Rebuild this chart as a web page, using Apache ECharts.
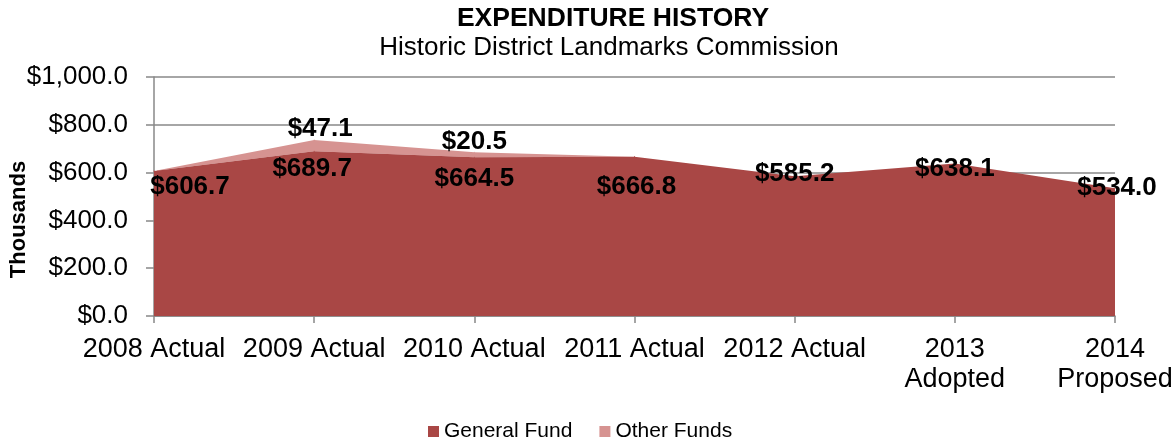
<!DOCTYPE html>
<html><head><meta charset="utf-8">
<script src="https://cdn.jsdelivr.net/npm/echarts@6/dist/echarts.min.js"></script>
<style>html,body{margin:0;padding:0;background:#fff}#c{width:1176px;height:442px}</style>
</head><body><div id="c"></div>
<script>
var categories = ['2008 Actual','2009 Actual','2010 Actual','2011 Actual','2012 Actual','2013\nAdopted','2014\nProposed'];
var generalFund = [606.7, 689.7, 664.5, 666.8, 585.2, 638.1, 534.0];
var otherFunds = [0, 47.1, 20.5, 0, 0, 0, 0];
var yTicks = [0, 200, 400, 600, 800, 1000];

// label offsets (styling only)
var gfOffsets = [[36,16],[-2,18],[0,22],[2,30],[0,-2],[0,5],[2,-1]];
var ofOffsets = [[0,0],[6,-11],[0,-10],[0,0],[0,0],[0,0],[0,0]];

var FONT = 'Liberation Sans, Arial, sans-serif';
var dark = '#A94745', light = '#D69391';

function fmt(v){ return '$' + v.toLocaleString('en-US',{minimumFractionDigits:1,maximumFractionDigits:1}); }

var gfData = generalFund.map(function(v,i){
  return {value:v, label:{offset:gfOffsets[i]}};
});
var ofData = otherFunds.map(function(v,i){
  return {value:v, label:{show: v>0, offset:ofOffsets[i]}};
});

var chart = echarts.init(document.getElementById('c'));
chart.setOption({
  animation:false,
  title:[
    {text:'EXPENDITURE HISTORY', left:608, top:0, textAlign:'center',
     textStyle:{fontFamily:FONT,fontSize:26.5,fontWeight:'bold',color:'#000'}},
    {text:'Historic District Landmarks Commission', left:604, top:30, textAlign:'center',
     textStyle:{fontFamily:FONT,fontSize:26,fontWeight:'normal',color:'#000'}}
  ],
  legend:{
    top:416, left:423, itemWidth:11, itemHeight:11, itemGap:27, icon:'rect',
    textStyle:{fontFamily:FONT,fontSize:21,color:'#000'},
    data:['General Fund','Other Funds']
  },
  grid:{left:154,right:61,top:77,bottom:126,containLabel:false,outerBoundsMode:'none'},
  xAxis:{
    type:'category', data:categories, boundaryGap:false,
    axisLine:{lineStyle:{color:'#888',width:1.5}},
    axisTick:{show:true,length:7,lineStyle:{color:'#888',width:1.5}},
    axisLabel:{fontFamily:FONT,fontSize:27,color:'#000',margin:19,lineHeight:30,interval:0}
  },
  yAxis:{
    type:'value', min:0, max:1000, interval:200,
    name:'Thousands', nameLocation:'middle', nameGap:124, nameRotate:90, nameMoveOverlap:false,
    nameTextStyle:{fontFamily:FONT,fontSize:22,fontWeight:'bold',color:'#000',padding:[0,46,0,0]},
    axisLine:{show:true,lineStyle:{color:'#888',width:1.5}},
    axisTick:{show:true,length:8,lineStyle:{color:'#888',width:1.5}},
    splitLine:{lineStyle:{color:'#888',width:1.5}},
    axisLabel:{fontFamily:FONT,fontSize:26,color:'#000',margin:26,
      formatter:function(v){ return yTicks.indexOf(v)>=0 ? fmt(v) : ''; }}
  },
  series:[
    {name:'General Fund', type:'line', stack:'total', data:gfData,
     symbol:'circle', symbolSize:1, showSymbol:true,
     lineStyle:{width:0,color:dark}, itemStyle:{color:dark},
     areaStyle:{color:dark,opacity:1},
     label:{show:true, position:'inside', formatter:function(p){return fmt(p.value);},
       fontFamily:FONT,fontSize:26,fontWeight:'bold',color:'#000'},
     z:2},
    {name:'Other Funds', type:'line', stack:'total', data:ofData,
     symbol:'circle', symbolSize:1, showSymbol:true,
     lineStyle:{width:0,color:light}, itemStyle:{color:light},
     areaStyle:{color:light,opacity:1},
     label:{show:true, position:'inside', formatter:function(p){return fmt(p.value);},
       fontFamily:FONT,fontSize:26,fontWeight:'bold',color:'#000'},
     z:1}
  ]
});
</script></body></html>
